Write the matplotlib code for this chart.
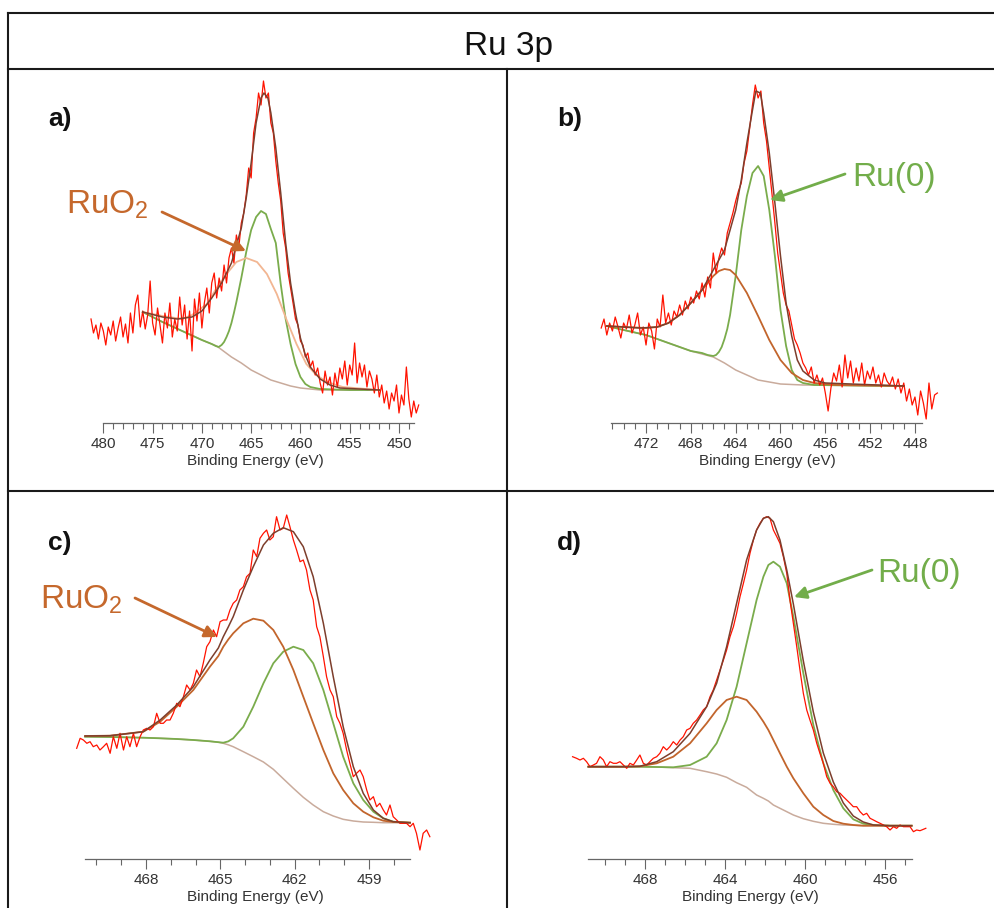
import matplotlib.pyplot as plt
from matplotlib.lines import Line2D
from matplotlib.patches import FancyArrowPatch

plt.rcParams['font.family'] = ['Liberation Sans', 'DejaVu Sans']
plt.rcParams['mathtext.fontset'] = 'custom'
plt.rcParams['mathtext.rm'] = 'Liberation Sans'

# ---------------- data (binding energy in eV, intensity in arb. units) ----------------
# panel a
a_be = [481.25, 481.0, 480.75, 480.5, 480.25, 480.0, 479.75, 479.5, 479.25, 479.0, 478.75, 478.5,
        478.25, 478.0, 477.75, 477.5, 477.25, 477.0, 476.75, 476.5, 476.25, 476.0, 475.75, 475.5,
        475.25, 475.0, 474.75, 474.5, 474.25, 474.0, 473.75, 473.5, 473.25, 473.0, 472.75, 472.5,
        472.25, 472.0, 471.75, 471.5, 471.25, 471.0, 470.75, 470.5, 470.25, 470.0, 469.75, 469.5,
        469.25, 469.0, 468.75, 468.5, 468.25, 468.0, 467.75, 467.5, 467.25, 467.0, 466.75, 466.5,
        466.25, 466.0, 465.75, 465.5, 465.25, 465.0, 464.75, 464.5, 464.25, 464.0, 463.75, 463.5,
        463.25, 463.0, 462.75, 462.5, 462.25, 462.0, 461.75, 461.5, 461.25, 461.0, 460.75, 460.5,
        460.25, 460.0, 459.75, 459.5, 459.25, 459.0, 458.75, 458.5, 458.25, 458.0, 457.75, 457.5,
        457.25, 457.0, 456.75, 456.5, 456.25, 456.0, 455.75, 455.5, 455.25, 455.0, 454.75, 454.5,
        454.25, 454.0, 453.75, 453.5, 453.25, 453.0, 452.75, 452.5, 452.25, 452.0, 451.75, 451.5,
        451.25, 451.0, 450.75, 450.5, 450.25, 450.0, 449.75, 449.5, 449.25, 449.0, 448.75, 448.5,
        448.25, 448.0]
a_counts = [104, 90, 98, 84, 100, 92, 78, 96, 88, 102, 82, 95, 106, 86, 99, 80, 110, 90, 118, 128,
            96, 112, 94, 108, 142, 100, 88, 115, 98, 80, 110, 95, 120, 86, 104, 92, 126, 98, 118, 84,
            112, 72, 124, 102, 130, 95, 120, 135, 110, 140, 150, 125, 145, 132, 158, 140, 165, 175, 160, 188,
            176, 200, 210, 228, 255, 245, 290, 305, 330, 318, 342, 325, 330, 300, 290, 262, 240, 222, 190, 175,
            150, 135, 120, 104, 98, 82, 78, 66, 70, 56, 62, 48, 55, 40, 30, 52, 38, 46, 28, 50,
            36, 55, 44, 62, 38, 58, 48, 80, 40, 60, 46, 58, 36, 52, 44, 30, 48, 26, 38, 20,
            32, 14, 30, 22, 38, 10, 28, 18, 56, 24, 6, 22, 10, 18]
a_bg_be = [476, 474, 472, 470, 468.5, 467, 466, 465, 464, 463, 462, 461, 460, 459, 458, 455, 452]
a_bg = [111, 101, 92, 83, 77, 66, 60, 53, 48, 43, 40, 37, 35, 34, 33, 33, 33]
a_ru_be = [476, 474, 472, 470, 469, 468.6, 468.3, 468.0, 467.75, 467.5, 467.25, 467, 466.75, 466.5,
           466.25, 466, 465.5, 465, 464.5, 464, 463.5, 463, 462.5, 462, 461.5, 461, 460.5, 460,
           459.5, 459, 458, 455, 452]
a_ru = [111, 101, 92, 83, 79, 77, 76, 78, 81, 86, 92, 100, 110, 121,
        133, 145, 171, 193, 206, 212, 209, 194, 180, 139, 104, 79, 59, 46,
        39, 36, 34, 33, 33]
a_ox_be = [476, 474, 472, 471, 469.5, 468.5, 467.5, 466.5, 465.5, 464.4, 463.4, 462.4, 461.4,
           460.4, 459.4, 458.4, 457.3, 455.7, 452.1]
a_ox = [111, 107, 104, 108, 119, 135, 149, 161, 165, 161, 149, 129, 103, 79, 59, 48, 41, 36, 33]
a_env_be = [476, 474, 472.5, 471, 470, 469, 468, 467, 466, 465.5, 465, 464.5, 464, 463.7, 463.3,
            463, 462.5, 462, 461.5, 461, 460.5, 460, 459.5, 459, 458, 457, 456, 452]
a_env = [111, 106, 104, 106, 112, 125, 140, 160, 195, 225, 260, 300, 325, 330, 325,
         310, 275, 230, 180, 140, 110, 85, 68, 56, 44, 38, 35, 33]

# panel b
b_be = [476.0, 475.75, 475.5, 475.25, 475.0, 474.75, 474.5, 474.25, 474.0, 473.75, 473.5, 473.25,
        473.0, 472.75, 472.5, 472.25, 472.0, 471.75, 471.5, 471.25, 471.0, 470.75, 470.5, 470.25,
        470.0, 469.75, 469.5, 469.25, 469.0, 468.75, 468.5, 468.25, 468.0, 467.75, 467.5, 467.25,
        467.0, 466.75, 466.5, 466.25, 466.0, 465.75, 465.5, 465.25, 465.0, 464.75, 464.5, 464.25,
        464.0, 463.75, 463.5, 463.25, 463.0, 462.75, 462.5, 462.25, 462.0, 461.75, 461.5, 461.25,
        461.0, 460.75, 460.5, 460.25, 460.0, 459.75, 459.5, 459.25, 459.0, 458.75, 458.5, 458.25,
        458.0, 457.75, 457.5, 457.25, 457.0, 456.75, 456.5, 456.25, 456.0, 455.75, 455.5, 455.25,
        455.0, 454.75, 454.5, 454.25, 454.0, 453.75, 453.5, 453.25, 453.0, 452.75, 452.5, 452.25,
        452.0, 451.75, 451.5, 451.25, 451.0, 450.75, 450.5, 450.25, 450.0, 449.75, 449.5, 449.25,
        449.0, 448.75, 448.5, 448.25, 448.0, 447.75, 447.5, 447.25, 447.0, 446.75, 446.5, 446.25,
        446.0]
b_counts = [95, 104, 88, 100, 92, 106, 96, 85, 100, 94, 108, 90, 98, 110, 88, 96, 78, 100, 92, 74,
            104, 96, 128, 100, 110, 98, 112, 106, 118, 108, 122, 114, 126, 120, 132, 124, 140, 126, 146, 135,
            170, 150, 165, 175, 168, 190, 200, 210, 222, 232, 240, 260, 272, 295, 318, 338, 325, 332, 300, 282,
            255, 228, 200, 170, 150, 130, 118, 112, 98, 84, 78, 70, 60, 55, 48, 56, 40, 48, 38, 45,
            30, 12, 35, 50, 42, 58, 36, 68, 45, 62, 40, 55, 42, 60, 38, 52, 44, 56, 40, 48,
            36, 50, 42, 38, 46, 34, 44, 30, 40, 22, 34, 18, 26, 8, 32, 20, 4, 40, 14, 28, 30]
b_bg_be = [475.5, 474, 472, 470, 468, 466, 465, 464, 463, 462, 461, 460, 458, 449]
b_bg = [97, 93, 88, 80, 72, 66, 60, 53, 48, 43, 41, 39, 38, 37]
b_ru_be = [475.5, 474, 472, 470, 468, 467, 466.5, 466, 465.75, 465.5, 465.25, 465, 464.75, 464.5,
           464, 463.5, 463, 462.5, 462, 461.5, 461, 460.5, 460, 459.5, 459, 458.5, 458, 457, 449]
b_ru = [97, 93, 88, 80, 72, 70, 68, 67, 68, 71, 76, 84, 94, 108,
        147, 193, 227, 250, 257, 247, 213, 167, 113, 77, 53, 43, 40, 38, 37]
b_ox_be = [475.5, 474, 472, 471, 470, 469, 468, 467, 466, 465.5, 465, 464.5, 464, 463, 462, 461,
           460, 459, 458, 457, 455, 449]
b_ox = [97, 96, 95, 96, 100, 108, 120, 133, 147, 152, 154, 153, 148, 130, 107, 83, 63, 50, 43, 40, 38, 37]
b_env_be = [475.5, 474, 472.5, 471, 470, 469, 468, 467, 466, 465, 464, 463.5, 463, 462.5, 462.2,
            461.8, 461.5, 461, 460.5, 460, 459.5, 459, 458.5, 458, 457, 456, 449]
b_env = [97, 96, 95, 96, 100, 108, 120, 133, 153, 173, 213, 243, 280, 313, 332,
         330, 310, 270, 220, 167, 120, 87, 63, 52, 43, 40, 37]

# panel c
c_be = [470.80, 470.66, 470.53, 470.39, 470.26, 470.13, 469.99, 469.86, 469.72, 469.59, 469.45, 469.32,
        469.18, 469.05, 468.91, 468.78, 468.65, 468.51, 468.38, 468.24, 468.11, 467.97, 467.84, 467.70,
        467.57, 467.43, 467.30, 467.17, 467.03, 466.90, 466.76, 466.63, 466.49, 466.36, 466.22, 466.09,
        465.96, 465.82, 465.69, 465.55, 465.42, 465.28, 465.15, 465.01, 464.88, 464.74, 464.61, 464.48,
        464.34, 464.21, 464.07, 463.94, 463.80, 463.67, 463.53, 463.40, 463.26, 463.13, 463.00, 462.86,
        462.73, 462.59, 462.46, 462.32, 462.19, 462.05, 461.92, 461.78, 461.65, 461.52, 461.38, 461.25,
        461.11, 460.98, 460.84, 460.71, 460.57, 460.44, 460.30, 460.17, 460.04, 459.90, 459.77, 459.63,
        459.50, 459.36, 459.23, 459.09, 458.96, 458.82, 458.69, 458.56, 458.42, 458.29, 458.15, 458.02,
        457.88, 457.75, 457.61, 457.48, 457.34, 457.21, 457.08, 456.94, 456.81, 456.67, 456.54]
c_counts = [110.7, 120.7, 119, 115.7, 117.3, 112.3, 114, 109, 112.3, 115.7,
            105.7, 122.3, 110.7, 125.7, 109, 122.3, 112.3, 125.7, 112.3, 122.3,
            129, 130.7, 129, 132.3, 145.7, 135.7, 135.7, 139, 139, 145.7,
            155.7, 152.3, 162.3, 174, 169, 175.7, 189, 182.3, 195.7, 212.3,
            217.3, 229, 222.3, 237.3, 239, 239, 249, 255.7, 259, 269,
            272.3, 282.3, 285.7, 309, 302.3, 320.7, 325.7, 329, 319, 322.3,
            342.3, 329, 330.7, 344, 332.3, 319, 309, 297.3, 299, 289,
            269, 259, 232.3, 222.3, 202.3, 182.3, 169, 162.3, 142.3, 135.7,
            125.7, 109, 95.7, 82.3, 85.7, 89, 82.3, 69, 59, 62.3,
            52.3, 55.7, 49, 44, 54, 42.3, 39, 35.7, 35.7, 35.7,
            32.3, 35.7, 25.7, 9, 25.7, 29, 22.3]
c_fit_be = [470.46, 469.45, 468.11, 467.43, 466.76, 466.09, 465.42, 465.08, 464.88, 464.68, 464.48,
            464.07, 463.67, 463.26, 462.86, 462.46, 462.05, 461.65, 461.25, 460.84, 460.44, 460.04,
            459.63, 459.23, 458.82, 458.42, 458.02, 457.34]
c_bg = [122.3, 122, 121.3, 120.7, 120, 119, 117.7, 116.8, 115.7, 114.2, 112.3, 107.3, 102.3, 97,
        89.7, 80.3, 70.7, 61.7, 54, 47.3, 43, 39.7, 38, 37, 36.7, 36.3, 36.3, 36.3]
c_ru = [122.3, 122, 121.3, 120.7, 120, 119, 117.7, 116.8, 116.3, 117.6, 120.7, 132.3, 152.3, 175.7,
        195.7, 207.3, 212.3, 209, 195.7, 169, 135.7, 102.3, 75.7, 59, 47.3, 40.7, 37.3, 36.3]
c_ox = [123, 123.3, 127.3, 137.3, 152.3, 169, 192.3, 203, 212.3, 219.5, 225.7, 235.7, 240.3, 238.3,
        229, 212.3, 189, 162.3, 135.7, 109, 85.7, 69, 55.7, 47.3, 41.7, 38.3, 37, 36.3]
c_env = [123, 123.3, 127.3, 139, 154, 172.3, 199, 211, 222.3, 232, 242.3, 269, 292.3, 314,
         325.7, 331.3, 327.3, 312.3, 282.3, 235.7, 182.3, 132.3, 92.3, 65.7, 49, 40.7, 37.3, 36.3]

# panel d
d_be = [471.64, 471.44, 471.27, 471.10, 470.94, 470.77, 470.60, 470.44, 470.27, 470.10, 469.94,
        469.77, 469.60, 469.44, 469.27, 469.10, 468.93, 468.77, 468.60, 468.43, 468.27,
        468.10, 467.93, 467.77, 467.60, 467.43, 467.27, 467.10, 466.93, 466.77, 466.60,
        466.43, 466.26, 466.10, 465.93, 465.76, 465.60, 465.43, 465.26, 465.10, 464.93,
        464.76, 464.60, 464.43, 464.26, 464.09, 463.93, 463.76, 463.59, 463.43, 463.26,
        463.09, 462.93, 462.76, 462.59, 462.43, 462.26, 462.09, 461.93, 461.76, 461.59,
        461.42, 461.26, 461.09, 460.92, 460.76, 460.59, 460.42, 460.26, 460.09, 459.92,
        459.76, 459.59, 459.42, 459.26, 459.09, 458.92, 458.75, 458.59, 458.42, 458.25,
        458.09, 457.92, 457.75, 457.59, 457.42, 457.25, 457.09, 456.92, 456.75, 456.58,
        456.42, 456.25, 456.08, 455.92, 455.75, 455.58, 455.42, 455.25, 455.08, 454.92,
        454.75, 454.58, 454.42, 454.25, 454.08, 453.96]
d_counts = [102.3,
            100.7, 99, 100.7, 97.3, 92.3, 94, 95.7, 102.3, 99, 92.3,
            97.3, 95.7, 95.7, 97.3, 94, 90.7, 95.7, 94, 99, 104,
            95.7, 94, 97.3, 100.7, 102.3, 105.7, 112.3, 109, 112.3, 117.3,
            114, 119, 122.3, 129, 130.7, 135.7, 139, 144, 149, 152.3,
            162.3, 169, 179, 189, 199, 209, 222.3, 232.3, 245.7, 262.3,
            275.7, 289, 305.7, 319, 329, 335.7, 340.7, 342.3, 340.7, 329,
            322.3, 315.7, 302.3, 285.7, 259, 235.7, 212.3, 189, 165.7, 149,
            139, 129, 115.7, 105.7, 95.7, 82.3, 75.7, 72.3, 67.3, 65.7,
            62.3, 59, 55.7, 52.3, 52.3, 47.3, 44, 45.7, 40.7, 39,
            37.3, 35.7, 34, 32.3, 29, 32.3, 30.7, 34, 32.3, 32.3,
            32.3, 27.3, 29, 28.3, 29.7, 30.7]
d_fit_be = [470.85, 469.10, 468.27, 467.43, 466.60, 465.76, 464.93, 464.43, 463.93, 463.43, 462.93,
            462.43, 462.09, 461.84, 461.59, 461.26, 460.92, 460.59, 460.09, 459.59, 459.09, 458.59,
            458.09, 457.59, 457.09, 456.58, 455.75, 454.67]
d_bg = [92.3, 92.3, 92.3, 92, 91.3, 90.7, 87.3, 85, 81.7, 76.3, 71.7, 64, 60.7, 58, 54, 50.7,
        47.3, 44, 40.3, 37.7, 35.7, 34.7, 34, 33.7, 33.3, 33.3, 33.3, 33.3]
d_ru = [92.3, 92.3, 92.3, 92, 91.7, 94, 102.3, 115.7, 139, 172.3, 215.7, 259, 282.3, 294, 297.3,
        292.3, 275.7, 242.3, 185.7, 134, 95.7, 69, 50.7, 39.7, 35.3, 34, 33.3, 33.3]
d_ox = [92.3, 92.3, 92.7, 95.7, 102.3, 115.7, 135.7, 149, 159, 162.3, 159, 147.3, 137.3, 129, 119,
        105.7, 92.3, 80.7, 65.7, 52.3, 44, 38, 35.3, 34, 33.3, 33.3, 33.3, 33.3]
d_env = [92.3, 92.3, 92.7, 97.3, 107.3, 125.7, 152.3, 175.7, 212.3, 255.7, 299, 329, 340.7, 342.3,
         337.3, 319, 289, 255, 198, 147, 106, 77, 56, 43, 37, 34, 33.3, 33.3]

# ---------------- figure ----------------
W, H = 994, 908
fig = plt.figure(figsize=(W / 100, H / 100), dpi=100)


def fx(x):
    return x / W


def fy(y):
    return 1 - y / H


# table frame
for x0, y0, x1, y1 in [(8, 13, 994, 13), (8, 69, 994, 69), (8, 491, 994, 491),
                       (8, 13, 8, 908), (507, 69, 507, 908)]:
    fig.add_artist(Line2D([fx(x0), fx(x1)], [fy(y0), fy(y1)], color='#1a1a1a', lw=1.5))

fig.text(fx(508), fy(55), 'Ru 3p', ha='center', va='baseline', fontsize=24, color='#111111')

RED = '#ff1200'
ENV = '#7d3e2c'
GREEN = '#7aac4c'
BG = '#c9ab9c'
OX = '#c2652c'
OX_LIGHT = '#f2b692'
LBL_OX = '#c5682c'
LBL_RU = '#72ad4a'


def panel(rect, xlim, bounds, major, minor, red, bg, ru, ox, env, ox_color):
    left, top, right, bottom = rect
    ax = fig.add_axes([fx(left), fy(bottom), (right - left) / W, (bottom - top) / H])
    ax.set_xlim(*xlim)
    ax.set_ylim(0, bottom - top)
    ax.plot(*bg, color=BG, lw=1.1)
    ax.plot(*ru, color=GREEN, lw=1.3)
    ax.plot(*ox, color=ox_color, lw=1.3)
    ax.plot(*red, color=RED, lw=0.9)
    ax.plot(*env, color=ENV, lw=1.1)
    for s in ['left', 'right', 'top']:
        ax.spines[s].set_visible(False)
    ax.spines['bottom'].set_bounds(*bounds)
    ax.spines['bottom'].set_color('#666666')
    ax.spines['bottom'].set_linewidth(0.9)
    ax.set_yticks([])
    ax.set_xticks(major)
    ax.set_xticks(minor, minor=True)
    ax.tick_params(axis='x', which='major', length=7, width=0.8, color='#666666',
                   labelsize=11, labelcolor='#333333', pad=3)
    ax.tick_params(axis='x', which='minor', length=4, width=0.8, color='#666666')
    ax.set_xlabel('Binding Energy (eV)', fontsize=11, color='#333333', labelpad=2)
    ax.patch.set_alpha(0)
    return ax


panel((85, 75, 425, 423), (481.86, 447.36), (448.45, 480.0),
      [480, 475, 470, 465, 460, 455, 450], list(range(449, 481)),
      (a_be, a_counts), (a_bg_be, a_bg), (a_ru_be, a_ru), (a_ox_be, a_ox), (a_env_be, a_env), OX_LIGHT)
panel((590, 75, 945, 423), (477.0, 445.32), (447.4, 475.15),
      [472, 468, 464, 460, 456, 452, 448], list(range(448, 476)),
      (b_be, b_counts), (b_bg_be, b_bg), (b_ru_be, b_ru), (b_ox_be, b_ox), (b_env_be, b_env), OX)
panel((70, 495, 440, 859), (471.07, 456.13), (457.35, 470.46),
      [468, 465, 462, 459], list(range(458, 471)),
      (c_be, c_counts), (c_fit_be, c_bg), (c_fit_be, c_ru), (c_fit_be, c_ox), (c_fit_be, c_env), OX)
panel((560, 495, 940, 859), (472.27, 453.25), (454.67, 470.85),
      [468, 464, 460, 456], list(range(455, 471)),
      (d_be, d_counts), (d_fit_be, d_bg), (d_fit_be, d_ru), (d_fit_be, d_ox), (d_fit_be, d_env), OX)

# panel letters
for x, y, s in [(48, 126, 'a)'), (557, 126, 'b)'), (48, 550, 'c)'), (557, 550, 'd)')]:
    fig.text(fx(x), fy(y), s, fontsize=19, fontweight='bold', va='baseline', color='#111111')

# component labels and arrows
labels = [(66, 213, r'RuO$_2$', LBL_OX, (162, 212), (246, 251)),
          (852, 186, 'Ru(0)', LBL_RU, (845, 174), (770, 200)),
          (40, 608, r'RuO$_2$', LBL_OX, (135, 598), (217, 637)),
          (877, 582, 'Ru(0)', LBL_RU, (872, 570), (794, 597))]
for x, y, s, c, tail, head in labels:
    fig.text(fx(x), fy(y), s, fontsize=24, color=c, va='baseline')
    fig.add_artist(FancyArrowPatch((fx(tail[0]), fy(tail[1])), (fx(head[0]), fy(head[1])),
                                   transform=fig.transFigure, arrowstyle='-|>', mutation_scale=18,
                                   lw=2, color=c, shrinkA=0, shrinkB=0))

plt.savefig('out.png', dpi=100)
